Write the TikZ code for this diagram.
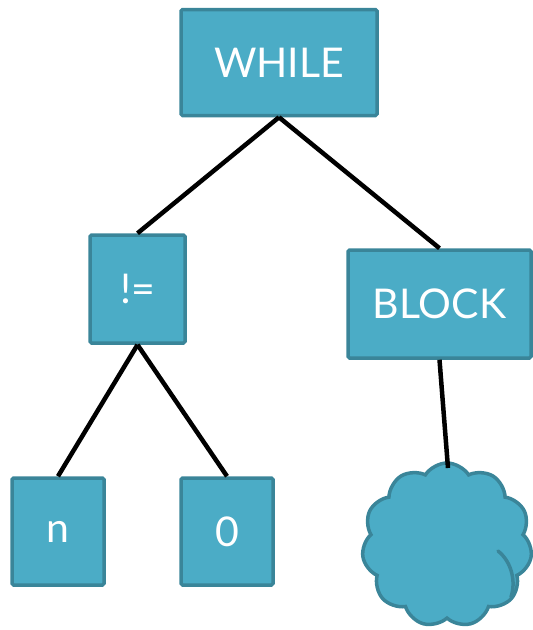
\documentclass[tikz,border=0pt]{standalone}
\usepackage{fontspec}
\setmainfont{Lato}
\usetikzlibrary{shapes.symbols}
\definecolor{boxfill}{HTML}{4BACC6}
\definecolor{boxline}{HTML}{3A8599}
\begin{document}
\begin{tikzpicture}[x=1pt,y=-1pt,
  treebox/.style={draw=boxline, fill=boxfill, line width=3.5pt, rounded corners=1.5pt,
    text=white, font=\fontsize{41}{44}\selectfont, inner sep=0pt},
  edge/.style={draw=black, line width=4.5pt}]
  \useasboundingbox (0,0) rectangle (533,630);
  % tree nodes
  \node[treebox, minimum width=196pt, minimum height=106pt] (while) at (279,62.5) {WHILE};
  \node[treebox, minimum width=95pt, minimum height=108pt] (neq) at (137.5,289) {!=};
  \node[treebox, minimum width=183pt, minimum height=108pt] (block) at (439.5,304) {BLOCK};
  \node[treebox, minimum width=92pt, minimum height=107pt] (n) at (58,531.5) {n};
  \node[treebox, minimum width=92pt, minimum height=107pt] (zero) at (227,531.5) {0};
  \node[cloud, cloud puffs=11, cloud puff arc=115, aspect=1.05, draw=boxline, fill=boxfill,
    line width=3.5pt, minimum width=170pt, minimum height=164pt, inner sep=0pt] (body) at (447,545) {};
  % inner fold of the cloud
  \draw[boxline, line width=3.5pt, line cap=round] (498,551) .. controls (512,562) and (516,582) .. (511,597);
  % connectors
  \coordinate (cloudtop) at (448,468);
  \draw[edge] (while.south) -- (neq.north);
  \draw[edge] (while.south) -- (block.north);
  \draw[edge] (neq.south) -- (n.north);
  \draw[edge] (neq.south) -- (zero.north);
  \draw[edge] (block.south) -- (cloudtop);
\end{tikzpicture}
\end{document}
